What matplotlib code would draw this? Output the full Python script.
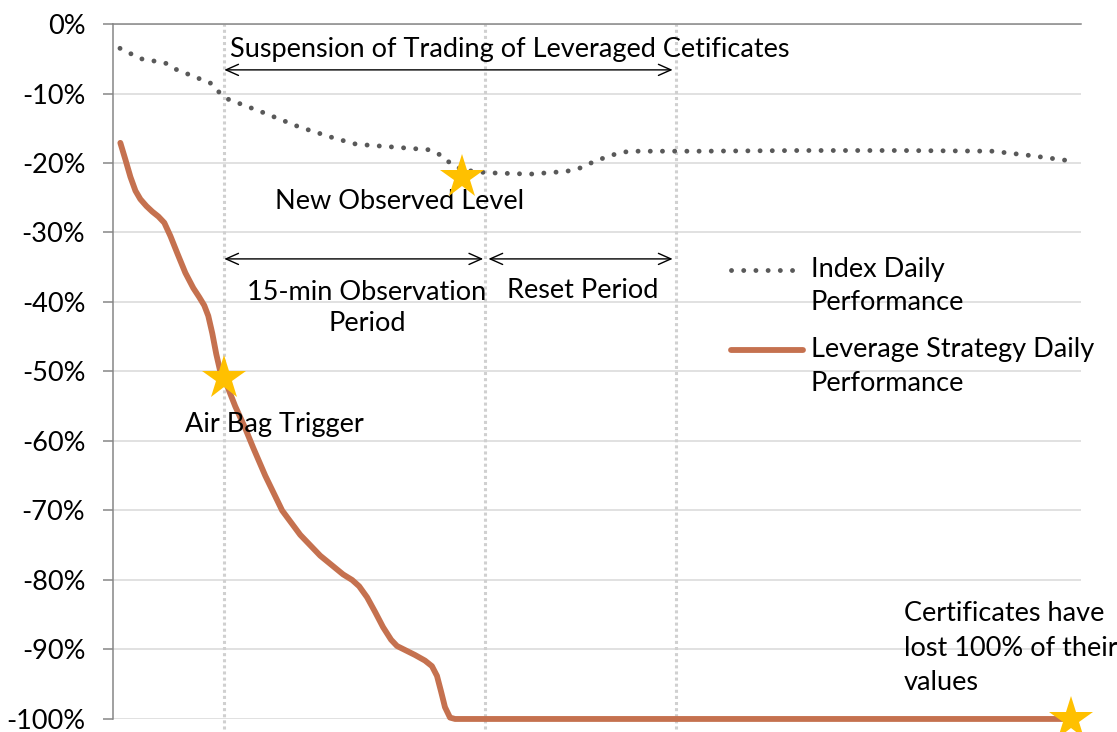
import matplotlib
matplotlib.use("Agg")
import matplotlib.pyplot as plt
import numpy as np
from matplotlib.ticker import FuncFormatter
from matplotlib.legend_handler import HandlerLine2D

plt.rcParams['font.family'] = ['Lato', 'DejaVu Sans']

# time in minutes relative to the air bag trigger
idx_t = [-6.0, -4.8, -3.4, -2.8, -1.4, -0.8, -0.3, 0.2, 2.2, 4.3, 6.3, 7.6, 9.7,
         11.8, 12.4, 13.0, 13.7, 15.1, 17.6, 19.7, 20.5, 21.1, 21.7, 22.4, 23.1,
         23.8, 27.4, 33.1, 38.9, 44.2, 46.3, 48.4]
idx_val = [-3.5, -5.0, -5.6, -6.5, -7.9, -8.5, -9.8, -10.8, -12.7, -14.8, -16.4,
           -17.3, -17.7, -18.1, -18.8, -20.0, -21.0, -21.4, -21.6, -21.2, -20.7,
           -20.0, -19.4, -18.8, -18.4, -18.3, -18.3, -18.2, -18.2, -18.3, -18.9, -19.6]

lev_t = [-5.98, -5.69, -5.40, -5.11, -4.83, -4.48, -4.14, -3.79, -3.45, -3.10,
         -2.70, -2.24, -1.78, -1.44, -1.15, -0.92, -0.69, -0.46, -0.23, 0.0,
         0.63, 1.21, 1.67, 2.36, 3.33, 4.37, 5.52, 6.84, 7.36, 7.76, 8.22, 8.68,
         9.14, 9.60, 9.94, 10.34, 10.98, 11.55, 11.95, 12.24, 12.47, 12.70,
         12.99, 13.28, 48.45]
lev_val = [-17.1, -19.5, -22.0, -24.0, -25.2, -26.2, -27.0, -27.7, -28.6, -30.5,
           -33.0, -35.8, -38.0, -39.3, -40.5, -42.0, -44.5, -47.5, -50.0, -51.0,
           -55.0, -58.2, -61.0, -65.0, -70.0, -73.5, -76.5, -79.2, -80.0, -80.9,
           -82.5, -84.6, -86.8, -88.6, -89.5, -90.0, -90.8, -91.6, -92.4, -93.8,
           -96.0, -98.3, -99.8, -100.0, -100.0]

period_t = [0, 15, 26]           # trigger, end of observation, end of reset
stars_t = [0.0, 13.7, 48.7]
stars_val = [-51.0, -22.0, -100.0]

yticks = list(range(0, -101, -10))


class FirstLineHandler(HandlerLine2D):
    # put the legend sample next to the first line of a two-line label
    def __init__(self, dy, **kw):
        super().__init__(**kw)
        self.dy = dy

    def create_artists(self, *args, **kw):
        arts = super().create_artists(*args, **kw)
        for a in arts:
            a.set_ydata(np.asarray(a.get_ydata()) + self.dy)
        return arts


fig = plt.figure(figsize=(11.17, 7.32), dpi=100)
ax = fig.add_axes([0.1012, 0.0178, 0.8666, 0.9494])

for t in period_t:
    ax.axvline(t, ymin=-0.014, color='#d0d0d0', lw=2.2, linestyle=(0, (1, 1)),
               zorder=1, clip_on=False)

l1, = ax.plot(idx_t, idx_val, color='#595959', lw=3.5, linestyle=(0, (0.01, 2.5)),
              dash_capstyle='round', label='Index Daily\nPerformance', zorder=3)
l2, = ax.plot(lev_t, lev_val, color='#c5714f', lw=4.2, solid_capstyle='round',
              solid_joinstyle='round', clip_on=False,
              label='Leverage Strategy Daily\nPerformance', zorder=3)
ax.plot(stars_t, stars_val, linestyle='none', marker='*', markersize=33,
        color='#ffc000', markeredgewidth=0, zorder=5, clip_on=False)

fs = 19.5
arr = dict(arrowstyle='<->,head_length=0.9,head_width=0.4', color='black', lw=1,
           shrinkA=0, shrinkB=0)
ax.annotate('', xy=(period_t[0], -6.6), xytext=(period_t[2] - 0.2, -6.6), arrowprops=arr)
ax.annotate('', xy=(period_t[0], -33.8), xytext=(period_t[1] - 0.1, -33.8), arrowprops=arr)
ax.annotate('', xy=(period_t[1] + 0.2, -33.8), xytext=(period_t[2] - 0.2, -33.8), arrowprops=arr)

ax.text(0.35, -3.7, 'Suspension of Trading of Leveraged Cetificates', fontsize=fs,
        ha='left', va='center')
ax.text(10.1, -25.6, 'New Observed Level', fontsize=fs, ha='center', va='center')
ax.text(8.2, -40.9, '15-min Observation\nPeriod', fontsize=fs, ha='center',
        va='center', linespacing=1.3)
ax.text(20.6, -38.4, 'Reset Period', fontsize=fs, ha='center', va='center')
ax.text(2.9, -57.6, 'Air Bag Trigger', fontsize=fs, ha='center', va='center')
ax.text(39.1, -89.8, 'Certificates have\nlost 100% of their\nvalues', fontsize=fs,
        ha='left', va='center', linespacing=1.48)

ax.set_xlim(-6.4, 49.3)
ax.set_ylim(-100, 0)
ax.set_yticks(yticks)
ax.yaxis.set_major_formatter(FuncFormatter(lambda v, p: f'{int(round(v))}%'))
ax.set_xticks([])
ax.tick_params(axis='y', length=7, width=1.1, color='#868686', pad=13,
               labelsize=fs)
ax.grid(axis='y', color='#d9d9d9', lw=1.1, zorder=0)
ax.set_axisbelow(True)
for s in ['right', 'bottom']:
    ax.spines[s].set_visible(False)
for s in ['left', 'top']:
    ax.spines[s].set_color('#868686')
    ax.spines[s].set_linewidth(1.1)

dy = 0.62 * fs
leg = ax.legend(handles=[l1, l2], loc='upper left', bbox_to_anchor=(0.613, 0.70),
                frameon=False, fontsize=fs, handlelength=2.65,
                handletextpad=0.3, labelspacing=0.82,
                handler_map={l1: FirstLineHandler(dy), l2: FirstLineHandler(dy)})
for t in leg.get_texts():
    t.set_linespacing(1.42)

fig.savefig('out.png', dpi=100)
